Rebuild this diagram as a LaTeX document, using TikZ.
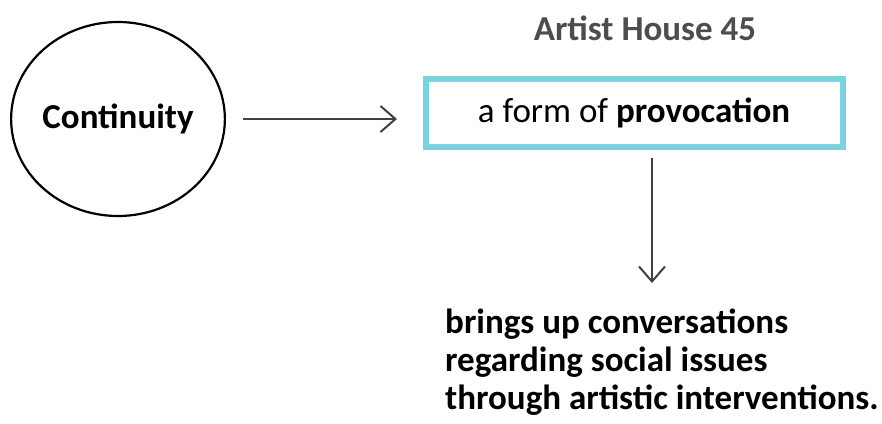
\documentclass[tikz,border=0pt]{standalone}
\usepackage{fontspec}
\setmainfont{Carlito}
\usetikzlibrary{arrows.meta,shapes.geometric}
\definecolor{boxcyan}{HTML}{79D4E0}
\definecolor{arrowgray}{HTML}{404040}
\definecolor{titlegray}{HTML}{4D4D4D}
\begin{document}
\begin{tikzpicture}[x=1pt,y=-1pt,
  txt/.style={inner sep=0pt, font=\fontsize{35}{38}\selectfont},
  flow/.style={draw=arrowgray, line width=2pt,
    -{Straight Barb[length=15pt,width=26pt,line width=2pt]}},
  oval/.style={draw=black, line width=2.2pt, ellipse, inner sep=0pt,
    minimum width=210pt, minimum height=194pt},
  framebox/.style={draw=boxcyan, line width=6pt, inner sep=0pt,
    minimum width=417pt, minimum height=68pt}]
\useasboundingbox (0,0) rectangle (882,423);

\node[oval, txt, font=\fontsize{35}{38}\selectfont\bfseries] (cont) at (118,119) {Continuity};

\node[txt, font=\fontsize{35}{38}\selectfont\bfseries, text=titlegray, anchor=base] (title) at (645,40) {Artist House 45};

\node[framebox, txt] (prov) at (634,112.5) {a form of \textbf{provocation}\hspace{6pt}};

\node[txt, font=\fontsize{35}{38}\selectfont\bfseries, align=left, anchor=base west] (result) at (445,409)
  {brings up conversations\\regarding social issues\\through artistic interventions.};

\coordinate (downend) at (652,283);

\draw[flow, shorten <=17pt, shorten >=25.5pt] (cont.east) -- (cont.east -| prov.west);
\draw[flow, shorten <=8pt] (prov.south -| downend) -- (downend);
\end{tikzpicture}
\end{document}
